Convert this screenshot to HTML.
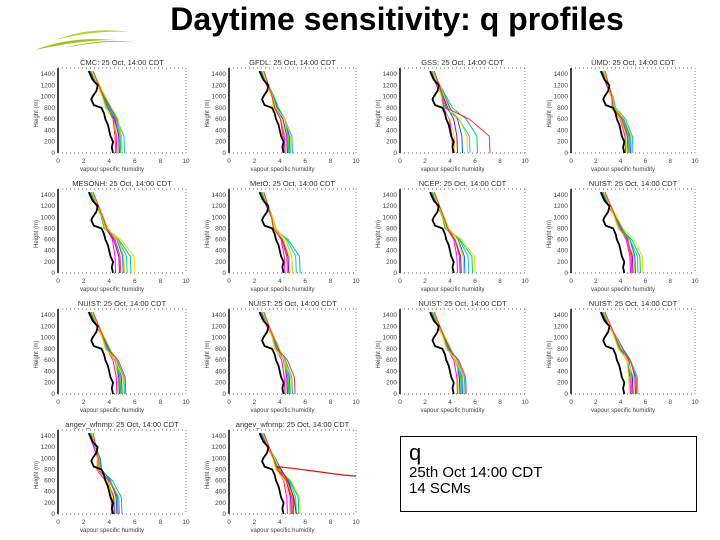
<!DOCTYPE html>
<html><head><meta charset="utf-8"><style>
body{margin:0;width:720px;height:540px;background:#fff;overflow:hidden;font-family:"Liberation Sans",sans-serif;position:relative}
#title{position:absolute;left:0;width:720px;top:1px;text-align:center;font-weight:bold;font-size:32px;padding-left:74px;box-sizing:border-box;white-space:nowrap}
#box{position:absolute;left:400px;top:436px;width:297px;height:76px;border:1px solid #000;box-sizing:border-box;padding:4px 8px;font-size:15px;line-height:16px}
</style></head><body>
<div id="title">Daytime sensitivity: q profiles</div>
<svg width="720" height="540" style="position:absolute;left:0;top:0" id="svg">
<g>
<path d="M35 50 Q70 36 115 40 Q80 40 35 50Z" fill="#9cc21a"/>
<path d="M55 40 Q90 26 130 32 Q95 30 55 40Z" fill="#b5d334"/>
<path d="M65 48 Q100 38 135 42 Q100 40 65 48Z" fill="#8db91a"/>
</g>
</svg>
<div id="box"><div style="font-size:22px;line-height:24px">q</div>25th Oct 14:00 CDT<br>14 SCMs</div>
<script>
const titles=["CMC: 25 Oct, 14:00 CDT","GFDL: 25 Oct, 14:00 CDT","GSS: 25 Oct, 14:00 CDT","UMD: 25 Oct, 14:00 CDT","MESONH: 25 Oct, 14:00 CDT","MetO: 25 Oct, 14:00 CDT","NCEP: 25 Oct, 14:00 CDT","NUIST: 25 Oct, 14:00 CDT","NUIST: 25 Oct, 14:00 CDT","NUIST: 25 Oct, 14:00 CDT","NUIST: 25 Oct, 14:00 CDT","NUIST: 25 Oct, 14:00 CDT","angev_wfnmp: 25 Oct, 14:00 CDT","angev_wfnmp: 25 Oct, 14:00 CDT"];
const xTicks=[0,2,4,6,8,10];
const yTicks=[0,200,400,600,800,1000,1200,1400];
const obsH=[0,100,200,300,400,500,600,700,800,850,900,950,1000,1100,1200,1300,1400,1450];
const obsQ=[4.3,4.2,4.3,4.1,4.0,3.9,3.7,3.6,3.4,2.8,2.7,2.6,2.7,3.0,3.1,2.7,2.5,2.4];
const modelH=[0,300,600,800,1000,1450];
const surfQ=[
[4.6,4.8,5.0,5.2,4.9,4.7,5.0,4.5],
[4.4,4.6,4.8,5.0,4.7,4.5,4.9,4.3],
[4.2,4.6,5.0,5.6,6.2,4.4,5.4,7.2],
[4.4,4.6,4.8,5.0,4.7,4.5,4.9,4.6],
[4.5,4.8,5.1,5.4,5.7,6.0,5.2,4.9],
[4.4,4.7,5.0,5.3,5.6,5.0,4.8,4.6],
[4.6,4.9,5.2,5.5,5.8,6.0,5.1,4.8],
[4.8,5.0,5.2,5.4,5.6,5.8,5.1,4.9],
[4.6,4.8,5.0,5.2,4.9,4.7,5.1,5.3],
[4.4,4.6,4.8,5.0,4.7,4.5,4.9,5.2],
[4.6,4.8,5.0,5.2,4.9,4.7,5.1,5.3],
[4.8,5.0,5.2,5.4,4.9,4.7,5.1,5.3],
[4.2,4.4,4.6,4.8,5.0,4.3,4.5,4.7],
[4.6,4.9,5.1,5.3,5.5,5.6,4.8,5.0]];
const midQ=[
[4.0,3.9,4.1,3.8,4.0,3.7,4.2,3.9],
[3.6,3.7,3.8,3.6,3.9,3.5,3.7,3.6],
[3.5,3.8,4.0,3.6,4.2,3.4,3.9,3.7],
[3.3,3.4,3.5,3.6,3.4,3.3,3.5,3.4],
[3.8,3.7,3.9,3.8,3.6,3.7,3.9,3.8],
[3.6,3.5,3.7,3.6,3.5,3.7,3.6,3.5],
[3.8,3.7,3.9,3.8,3.6,3.7,3.9,3.8],
[3.9,4.0,4.1,3.9,4.0,4.2,3.8,4.0],
[3.8,3.9,4.0,3.8,3.9,4.1,3.7,3.9],
[3.7,3.8,3.9,3.7,3.8,4.0,3.6,3.8],
[3.8,3.9,4.0,3.8,3.9,4.1,3.7,3.9],
[4.0,4.1,4.2,4.0,3.9,4.1,3.8,4.0],
[3.0,3.2,3.4,3.1,3.3,3.2,3.0,3.1],
[3.8,3.9,4.1,4.0,3.9,4.0,3.7,3.8]];
// outlier model in last panel (red line going off to the right)
const outlierH=[0,300,600,800,850,820,760,700,680];
const outlierQ=[5.3,5.1,4.6,4.1,3.8,5.0,7.0,9.0,10.0];
const colors=["#ff00ff","#9900cc","#0066ff","#00cccc","#00cc66","#ccee00","#ffcc00","#ff3333"];
const cols=[[58,186],[229,356],[400,525],[571,695]];
const rows=[[74,153],[195,273],[315,394],[436,514]];
const svg=document.getElementById('svg');
const NS='http://www.w3.org/2000/svg';
function mk(t,a,p){const e=document.createElementNS(NS,t);for(const k in a)e.setAttribute(k,a[k]);(p||svg).appendChild(e);return e;}
for(let p=0;p<14;p++){
 const c=cols[p%4],r=rows[Math.floor(p/4)];
 const X=v=>c[0]+(c[1]-c[0])*v/10, Y=h=>r[1]-(r[1]-r[0])*h/1400;
 const g=mk('g',{});
 
 
 const t=mk('text',{x:(c[0]+c[1])/2,y:r[0]-9,'text-anchor':'middle','font-size':'7.5',fill:'#333'},g);t.textContent=titles[p];
 
 
 mk('line',{x1:c[0],y1:r[0]-6,x2:c[0],y2:r[1],stroke:'#000','stroke-width':1.5},g);
 mk('line',{x1:c[0],y1:r[1],x2:c[1],y2:r[1],stroke:'#666','stroke-width':1,'stroke-dasharray':'1,3'},g);
 mk('line',{x1:c[0],y1:r[0]-6,x2:c[1],y2:r[0]-6,stroke:'#666','stroke-width':1,'stroke-dasharray':'1,3'},g);
 mk('line',{x1:c[1],y1:r[0]-6,x2:c[1],y2:r[1],stroke:'#888','stroke-width':1,'stroke-dasharray':'1,2'},g);
 xTicks.forEach(v=>{const e=mk('text',{x:X(v),y:r[1]+10,'text-anchor':'middle','font-size':'6.5',fill:'#444'},g);e.textContent=v;});
 yTicks.forEach(v=>{const e=mk('text',{x:c[0]-3,y:Y(v)+2,'text-anchor':'end','font-size':'6.5',fill:'#444'},g);e.textContent=v;});
 const xl=mk('text',{x:(c[0]+c[1])/2-10,y:r[1]+18,'text-anchor':'middle','font-size':'6',fill:'#444'},g);xl.textContent='vapour specific humidity';
 const yl=mk('text',{x:0,y:0,'text-anchor':'middle','font-size':'6',fill:'#444',transform:`translate(${c[0]-20},${(r[0]+r[1])/2}) rotate(-90)`},g);yl.textContent='Height (m)';
 surfQ[p].forEach((s,i)=>{
  const m=midQ[p][i];
  const vals=[s,s-0.05,(s+m)/2+0.1,m,(m+2.6)/2+0.3,2.4+i*0.05];
  const pts=modelH.map((h,k)=>X(Math.min(vals[k],10))+','+Y(h)).join(' ');
  const l=mk('polyline',{points:pts,fill:'none',stroke:colors[i],'stroke-width':1},g);
  
  
 });
 if(p===13){
  const o=mk('polyline',{points:outlierH.map((h,k)=>X(outlierQ[k])+','+Y(h)).join(' '),fill:'none',stroke:'#dd1111','stroke-width':1.2},g);
  
  
 }
 const ob=mk('polyline',{points:obsH.map((h,k)=>X(obsQ[k])+','+Y(h)).join(' '),fill:'none',stroke:'#000','stroke-width':1.8},g);
 
 
}
</script>
</body></html>
